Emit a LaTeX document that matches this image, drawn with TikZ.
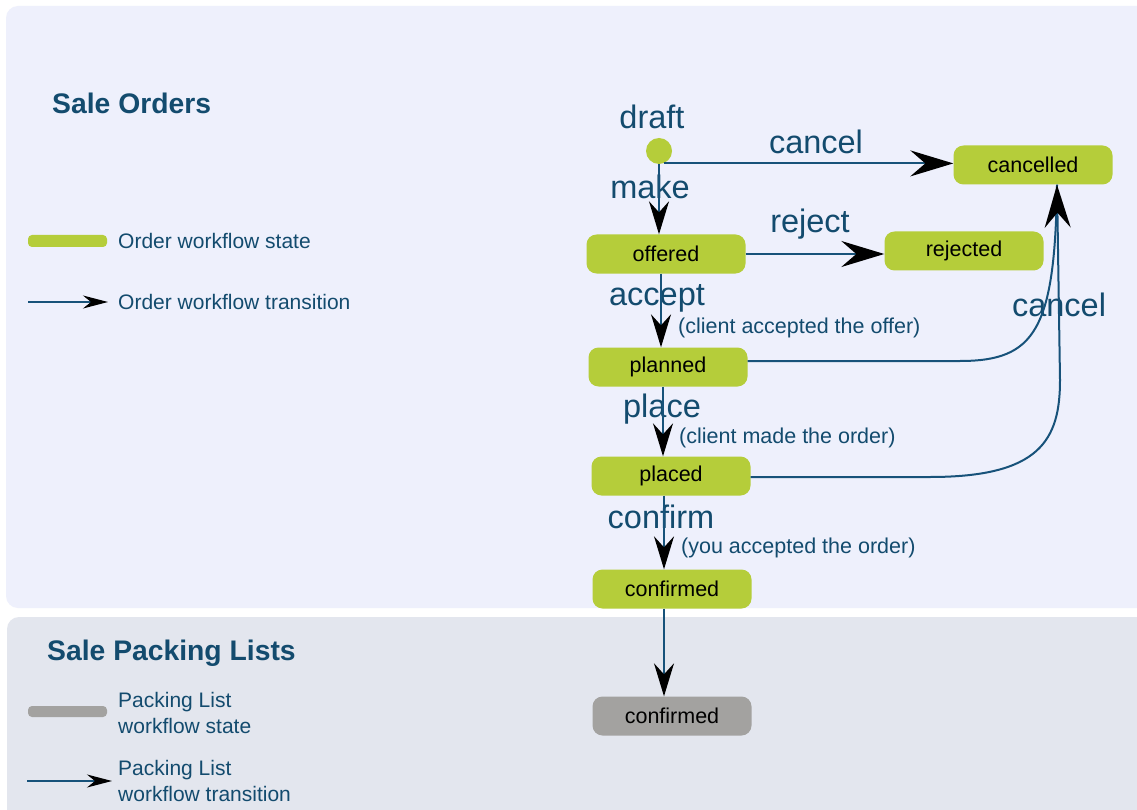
\documentclass[tikz,border=0pt]{standalone}
\usepackage{fontspec}
\setmainfont{Liberation Sans}
\usetikzlibrary{arrows.meta}
\definecolor{panelA}{HTML}{EEF0FC}
\definecolor{panelB}{HTML}{E3E6EE}
\definecolor{stateg}{HTML}{B5CD3A}
\definecolor{stategray}{HTML}{A3A2A0}
\definecolor{ink}{HTML}{134B6E}
\definecolor{edge}{HTML}{17527A}
\tikzset{
  state/.style={rounded corners=10pt, fill=stateg, minimum width=159pt, minimum height=39pt, inner sep=0pt, text=black, font=\fontsize{21.5}{23}\selectfont},
  pstate/.style={state, fill=stategray},
  lbl/.style={text=ink, font=\fontsize{32.5}{35}\selectfont, anchor=base, inner sep=0pt},
  note/.style={text=ink, font=\fontsize{21.5}{24}\selectfont, anchor=base west, inner sep=0pt},
  legtext/.style={text=ink, font=\fontsize{21}{24}\selectfont, anchor=base west, inner sep=0pt},
  title/.style={text=ink, font=\bfseries\fontsize{28.3}{31}\selectfont, anchor=base west, inner sep=0pt},
  trans/.style={draw=edge, line width=2pt, -{Stealth[black, length=33pt, width=20pt, inset=11pt]}},
  transbig/.style={draw=edge, line width=2pt, -{Stealth[black, length=43pt, width=26pt, inset=15pt]}},
  legarrow/.style={draw=edge, line width=1.4pt, -{Stealth[black, length=25pt, width=13pt, inset=8pt]}},
}
\begin{document}
\begin{tikzpicture}[x=1pt, y=-1pt]
\useasboundingbox (0,0) rectangle (1137,810);
\fill[white] (0,0) rectangle (1137,810);
\fill[panelA, rounded corners=12pt] (6,6) rectangle (1160,608);
\fill[panelB, rounded corners=12pt] (7,617) rectangle (1160,830);

% titles
\node[title] (t1) at (52,114) {Sale Orders};
\node[title] (t2) at (47,660) {Sale Packing Lists};

% legend
\fill[stateg, rounded corners=4pt] (28,235) rectangle (107,247);
\node[legtext] (lg1) at (118,248) {Order workflow state};
\coordinate (la1) at (28,302);
\coordinate (lb1) at (108,302);
\draw[legarrow] (la1) -- (lb1);
\node[legtext] (lg2) at (118,309) {Order workflow transition};

\fill[stategray, rounded corners=4pt] (28,706) rectangle (107,717);
\node[legtext] (lg3) at (118,707) {Packing List};
\node[legtext] (lg4) at (118,733) {workflow state};
\coordinate (la2) at (27,781);
\coordinate (lb2) at (112,781);
\draw[legarrow] (la2) -- (lb2);
\node[legtext] (lg5) at (118,775) {Packing List};
\node[legtext] (lg6) at (118,801) {workflow transition};

% states
\node[circle, fill=stateg, minimum size=26pt, inner sep=0pt] (draft) at (659,151) {};
\node[state] (cancelled) at (1033,165) {cancelled};
\node[state] (offered) at (666,254) {offered};
\node[state] (rejected) at (964,251) {rejected};
\node[state] (planned) at (668,367) {planned};
\node[state] (placed) at (671,476) {placed};
\node[state] (confirmed) at (672,589) {confirmed};
\node[pstate] (pconfirmed) at (672,716) {confirmed};

% labels
\node[lbl] (ldraft) at (652,129) {draft};
\node[lbl] (lcancel1) at (816,154) {cancel};
\node[lbl] (lmake) at (650,199) {make};
\node[lbl] (lreject) at (810,233) {reject};
\node[lbl] (laccept) at (657,305) {accept};
\node[lbl] (lplace) at (662,417) {place};
\node[lbl] (lconfirm) at (661,528) {confirm};
\node[lbl] (lcancel2) at (1059,316) {cancel};
\node[note] (n1) at (678,333) {(client accepted the offer)};
\node[note] (n2) at (679,443) {(client made the order)};
\node[note] (n3) at (681,553) {(you accepted the order)};

% transitions
\draw[transbig] (draft.-70) -- (draft.-70 -| cancelled.west);
\draw[trans] (draft.south) -- (draft.south |- offered.north);
\draw[transbig] (offered.east) -- (offered.east -| rejected.west);
\draw[trans] ([xshift=-5pt]offered.south) -- ([xshift=-5pt]offered.south |- planned.north);
\draw[trans] ([xshift=-5pt]planned.south) -- ([xshift=-5pt]planned.south |- placed.north);
\draw[trans] ([xshift=-7pt]placed.south) -- ([xshift=-7pt]placed.south |- confirmed.north);
\draw[trans] ([xshift=-8pt]confirmed.south) -- ([xshift=-8pt]confirmed.south |- pconfirmed.north);
\coordinate (pl1) at (960,361);
\coordinate (pc1) at (930,477);
\draw[draw=edge, line width=2pt] ([yshift=6pt]planned.east) -- (pl1) .. controls (1035,361) and (1055,330) .. ([xshift=24pt]cancelled.south);
\draw[transbig] ([yshift=-1pt]placed.east) -- (pc1) .. controls (1040,477) and (1060,440) .. (1060,380) -- ([xshift=24pt]cancelled.south);
\end{tikzpicture}
\end{document}
